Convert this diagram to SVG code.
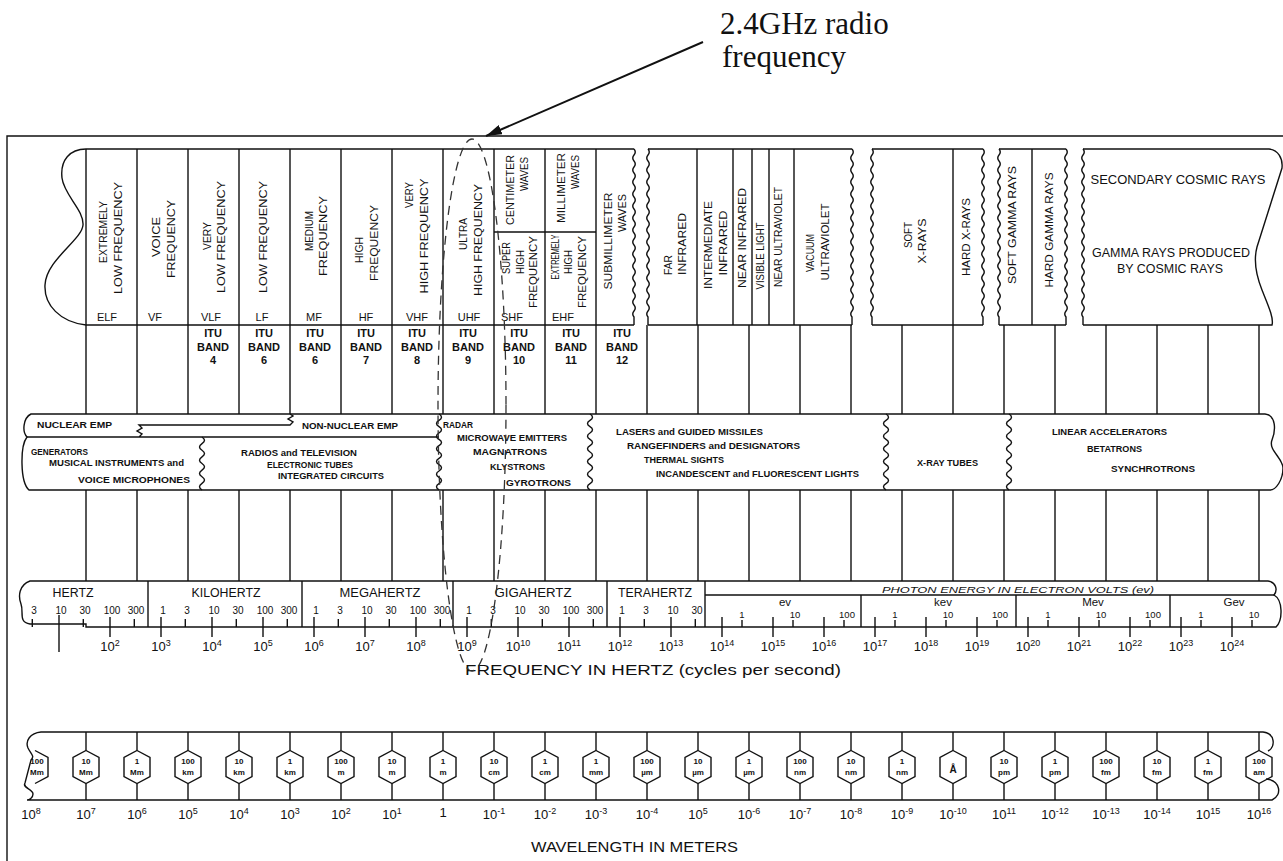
<svg xmlns="http://www.w3.org/2000/svg" width="1283" height="861" viewBox="0 0 1283 861">
<defs>
<style>
.ln{fill:none;stroke:#111;stroke-width:1.4}
.t{font-family:"Liberation Sans",Arial,Helvetica,sans-serif;fill:#111}
.hv{font-size:10.5px;text-anchor:middle}
.ab{font-size:11px;text-anchor:middle}
.itu{font-size:11px;font-weight:bold;text-anchor:middle}
.m{font-size:8.5px;font-weight:bold}
.u{font-size:12px;text-anchor:middle}
.n{font-size:10px;text-anchor:middle}
.d{font-size:13px;text-anchor:middle}
.hx{font-size:8px;font-weight:bold;text-anchor:middle}
.cap{font-size:15px}
.ann{font-family:"Liberation Serif","Times New Roman",serif;font-size:31px;fill:#111}
</style>
<path id="wv" d="M0,0q2.5,3 0,6q-2.5,3 0,6q2.5,3 0,6q-2.5,3 0,6q2.5,3 0,6q-2.5,3 0,6q2.5,3 0,6q-2.5,3 0,6q2.5,3 0,6q-2.5,3 0,6q2.5,3 0,6q-2.5,3 0,6q2.5,3 0,6q-2.5,3 0,6q2.5,3 0,6q-2.5,3 0,6q2.5,3 0,6q-2.5,3 0,6q2.5,3 0,6q-2.5,3 0,6q2.5,3 0,6q-2.5,3 0,6q2.5,3 0,6q-2.5,3 0,6q2.5,3 0,6q-2.5,3 0,6q2.5,3 0,6q-2.5,3 0,6l0,8"/>
<path id="wm" d="M0,0q5,3.2 0,6.33q-5,3.2 0,6.33q5,3.2 0,6.33q-5,3.2 0,6.33q5,3.2 0,6.33q-5,3.2 0,6.33q5,3.2 0,6.33q-5,3.2 0,6.33q5,3.2 0,6.33q-5,3.2 0,6.33q5,3.2 0,6.33q-5,3.2 0,6.33"/>
<path id="ws" d="M0,0q5,3.3 0,6.63q-5,3.3 0,6.63q5,3.3 0,6.63q-5,3.3 0,6.63q5,3.3 0,6.63q-5,3.3 0,6.63q5,3.3 0,6.63q-5,3.3 0,6.63"/>
<polygon id="hex" points="0,-16.5 13,-9.5 13,9.5 0,16.5 -13,9.5 -13,-9.5"/>
<marker id="ah" viewBox="0 0 16 10" refX="16" refY="5" markerWidth="16" markerHeight="10" markerUnits="userSpaceOnUse" orient="auto"><path d="M0,0 L16,5 L0,10 z" fill="#111"/></marker>
<clipPath id="clipL"><rect x="30" y="740" width="30" height="50"/></clipPath>
</defs>
<rect width="1283" height="861" fill="#fff"/>

<g id="frame" class="ln">
<path d="M7,861 V136 H1283"/>
</g>

<g id="annotation">
<text class="ann" x="720" y="34">2.4GHz radio</text>
<text class="ann" x="722" y="67">frequency</text>
</g>

<g id="header">
<path class="ln" d="M86,149 H634 M86,149 C70,149 60,160 62,178 C64,195 84,210 83,225 C82,240 46,260 45,285 C44,305 60,322 86,325 H634"/>
<path class="ln" d="M648,149 H852 M648,325 H852 M872,149 H983 M872,325 H983 M999,149 H1066 M999,325 H1066"/>
<path class="ln" d="M1083,149 H1269 C1278,150 1283,158 1282,168 L1257,247 C1253,262 1258,280 1262,290 C1268,305 1274,318 1272,325 H1083"/>
<use href="#wv" x="634" y="149" class="ln"/>
<use href="#wv" x="648" y="149" class="ln"/>
<use href="#wv" x="852" y="149" class="ln"/>
<use href="#wv" x="872" y="149" class="ln"/>
<use href="#wv" x="983" y="149" class="ln"/>
<use href="#wv" x="999" y="149" class="ln"/>
<use href="#wv" x="1066" y="149" class="ln"/>
<use href="#wv" x="1083" y="149" class="ln"/>
<path class="ln" d="M86,149V325M137,149V325M188,149V325M239,149V325M290,149V325M341,149V325M392,149V325M443,149V325M494,149V325M545,149V325M596,149V325M494,232H596M697,149V325M733,149V325M752,149V325M769,149V325M794,149V325M953,149V325M1032,149V325"/>
<g class="t hv">
<text transform="translate(103,232) rotate(-90)" y="4" textLength="62" lengthAdjust="spacingAndGlyphs">EXTREMELY</text>
<text transform="translate(118,238) rotate(-90)" y="4" textLength="112" lengthAdjust="spacingAndGlyphs">LOW FREQUENCY</text>
<text transform="translate(156,237) rotate(-90)" y="4" textLength="40" lengthAdjust="spacingAndGlyphs">VOICE</text>
<text transform="translate(171,239) rotate(-90)" y="4" textLength="78" lengthAdjust="spacingAndGlyphs">FREQUENCY</text>
<text transform="translate(207,236) rotate(-90)" y="4" textLength="28" lengthAdjust="spacingAndGlyphs">VERY</text>
<text transform="translate(221,237) rotate(-90)" y="4" textLength="112" lengthAdjust="spacingAndGlyphs">LOW FREQUENCY</text>
<text transform="translate(263,237) rotate(-90)" y="4" textLength="112" lengthAdjust="spacingAndGlyphs">LOW FREQUENCY</text>
<text transform="translate(309,231) rotate(-90)" y="4" textLength="40" lengthAdjust="spacingAndGlyphs">MEDIUM</text>
<text transform="translate(323,236) rotate(-90)" y="4" textLength="80" lengthAdjust="spacingAndGlyphs">FREQUENCY</text>
<text transform="translate(359,250) rotate(-90)" y="4" textLength="26" lengthAdjust="spacingAndGlyphs">HIGH</text>
<text transform="translate(374,243) rotate(-90)" y="4" textLength="76" lengthAdjust="spacingAndGlyphs">FREQUENCY</text>
<text transform="translate(409,195) rotate(-90)" y="4" textLength="26" lengthAdjust="spacingAndGlyphs">VERY</text>
<text transform="translate(424,236) rotate(-90)" y="4" textLength="115" lengthAdjust="spacingAndGlyphs">HIGH FREQUENCY</text>
<text transform="translate(463,234) rotate(-90)" y="4" textLength="32" lengthAdjust="spacingAndGlyphs">ULTRA</text>
<text transform="translate(478,240) rotate(-90)" y="4" textLength="112" lengthAdjust="spacingAndGlyphs">HIGH FREQUENCY</text>
<text transform="translate(510,190) rotate(-90)" y="4" textLength="70" lengthAdjust="spacingAndGlyphs">CENTIMETER</text>
<text transform="translate(524,174) rotate(-90)" y="4" textLength="34" lengthAdjust="spacingAndGlyphs">WAVES</text>
<text transform="translate(561,188) rotate(-90)" y="4" textLength="70" lengthAdjust="spacingAndGlyphs">MILLIMETER</text>
<text transform="translate(575,172) rotate(-90)" y="4" textLength="34" lengthAdjust="spacingAndGlyphs">WAVES</text>
<text transform="translate(506,258) rotate(-90)" y="4" textLength="32" lengthAdjust="spacingAndGlyphs">SUPER</text>
<text transform="translate(520,262) rotate(-90)" y="4" textLength="24" lengthAdjust="spacingAndGlyphs">HIGH</text>
<text transform="translate(533,272) rotate(-90)" y="4" textLength="72" lengthAdjust="spacingAndGlyphs">FREQUENCY</text>
<text transform="translate(555,257) rotate(-90)" y="4" textLength="45" lengthAdjust="spacingAndGlyphs">EXTREMELY</text>
<text transform="translate(568,262) rotate(-90)" y="4" textLength="24" lengthAdjust="spacingAndGlyphs">HIGH</text>
<text transform="translate(582,272) rotate(-90)" y="4" textLength="72" lengthAdjust="spacingAndGlyphs">FREQUENCY</text>
<text transform="translate(608,241) rotate(-90)" y="4" textLength="97" lengthAdjust="spacingAndGlyphs">SUBMILLIMETER</text>
<text transform="translate(622,213) rotate(-90)" y="4" textLength="38" lengthAdjust="spacingAndGlyphs">WAVES</text>
<text transform="translate(668,265) rotate(-90)" y="4" textLength="20" lengthAdjust="spacingAndGlyphs">FAR</text>
<text transform="translate(682,244) rotate(-90)" y="4" textLength="62" lengthAdjust="spacingAndGlyphs">INFRARED</text>
<text transform="translate(708,245) rotate(-90)" y="4" textLength="88" lengthAdjust="spacingAndGlyphs">INTERMEDIATE</text>
<text transform="translate(723,243) rotate(-90)" y="4" textLength="65" lengthAdjust="spacingAndGlyphs">INFRARED</text>
<text transform="translate(742,238) rotate(-90)" y="4" textLength="100" lengthAdjust="spacingAndGlyphs">NEAR INFRARED</text>
<text transform="translate(760,256) rotate(-90)" y="4" textLength="67" lengthAdjust="spacingAndGlyphs">VISIBLE LIGHT</text>
<text transform="translate(778,237) rotate(-90)" y="4" textLength="100" lengthAdjust="spacingAndGlyphs">NEAR ULTRAVIOLET</text>
<text transform="translate(810,253) rotate(-90)" y="4" textLength="38" lengthAdjust="spacingAndGlyphs">VACUUM</text>
<text transform="translate(825,242) rotate(-90)" y="4" textLength="77" lengthAdjust="spacingAndGlyphs">ULTRAVIOLET</text>
<text transform="translate(908,235) rotate(-90)" y="4" textLength="26" lengthAdjust="spacingAndGlyphs">SOFT</text>
<text transform="translate(922,241) rotate(-90)" y="4" textLength="45" lengthAdjust="spacingAndGlyphs">X-RAYS</text>
<text transform="translate(966,237) rotate(-90)" y="4" textLength="78" lengthAdjust="spacingAndGlyphs">HARD X-RAYS</text>
<text transform="translate(1012,225) rotate(-90)" y="4" textLength="118" lengthAdjust="spacingAndGlyphs">SOFT GAMMA RAYS</text>
<text transform="translate(1049,230) rotate(-90)" y="4" textLength="115" lengthAdjust="spacingAndGlyphs">HARD GAMMA RAYS</text>
</g>
<g class="t u">
<text x="1178" y="184" textLength="175" lengthAdjust="spacingAndGlyphs">SECONDARY COSMIC RAYS</text>
<text x="1171" y="257" textLength="158" lengthAdjust="spacingAndGlyphs">GAMMA RAYS PRODUCED</text>
<text x="1170" y="273" textLength="106" lengthAdjust="spacingAndGlyphs">BY COSMIC RAYS</text>
</g>
<g class="t ab">
<text x="107" y="321">ELF</text><text x="155" y="321">VF</text><text x="211" y="321">VLF</text>
<text x="262" y="321">LF</text><text x="314" y="321">MF</text><text x="366" y="321">HF</text>
<text x="417" y="321">VHF</text><text x="469" y="321">UHF</text><text x="512" y="321">SHF</text>
<text x="563" y="321">EHF</text>
</g>
</g>

<g id="itu-row">
<path class="ln" d="M86,325V414M137,325V414M188,325V414M239,325V414M290,325V414M341,325V414M392,325V414M443,325V414M494,325V414M545,325V414M596,325V414M647,325V414M698,325V414M749,325V414M800,325V414M851,325V414M902,325V414M953,325V414M1004,325V414M1055,325V414M1106,325V414M1157,325V414M1208,325V414M1259,325V414"/>
<g class="t itu">
<text x="213" y="337">ITU</text><text x="213" y="351">BAND</text><text x="213" y="364">4</text>
<text x="264" y="337">ITU</text><text x="264" y="351">BAND</text><text x="264" y="364">6</text>
<text x="315" y="337">ITU</text><text x="315" y="351">BAND</text><text x="315" y="364">6</text>
<text x="366" y="337">ITU</text><text x="366" y="351">BAND</text><text x="366" y="364">7</text>
<text x="417" y="337">ITU</text><text x="417" y="351">BAND</text><text x="417" y="364">8</text>
<text x="468" y="337">ITU</text><text x="468" y="351">BAND</text><text x="468" y="364">9</text>
<text x="519" y="337">ITU</text><text x="519" y="351">BAND</text><text x="519" y="364">10</text>
<text x="571" y="337">ITU</text><text x="571" y="351">BAND</text><text x="571" y="364">11</text>
<text x="622" y="337">ITU</text><text x="622" y="351">BAND</text><text x="622" y="364">12</text>
</g>
</g>

<g id="sources-band">
<path class="ln" d="M31,414 H1265 C1276,415 1276,430 1272,440 C1268,450 1283,458 1283,468 C1283,480 1276,490 1270,490 H29 C20,482 20,446 27,437 C22,432 23,418 31,414 Z"/>
<path class="ln" d="M27,437 H439 M139,437 l3,-3 -5,-3 5,-3 -3,-3 H290 l3,-3 -5,-3 5,-3 -3,-2"/>
<use href="#wm" x="439" y="414" class="ln"/>
<use href="#wm" x="590" y="414" class="ln"/>
<use href="#wm" x="886" y="414" class="ln"/>
<use href="#wm" x="1009" y="414" class="ln"/>
<use href="#ws" x="202" y="437" class="ln"/>
<g class="t m">
<text x="37" y="428" textLength="75" lengthAdjust="spacingAndGlyphs">NUCLEAR EMP</text>
<text x="302" y="429" textLength="96" lengthAdjust="spacingAndGlyphs">NON-NUCLEAR EMP</text>
<text x="31" y="455" textLength="57" lengthAdjust="spacingAndGlyphs">GENERATORS</text>
<text x="49" y="466" textLength="135" lengthAdjust="spacingAndGlyphs">MUSICAL INSTRUMENTS and</text>
<text x="78" y="483" textLength="112" lengthAdjust="spacingAndGlyphs">VOICE MICROPHONES</text>
<text x="241" y="456" textLength="116" lengthAdjust="spacingAndGlyphs">RADIOS and TELEVISION</text>
<text x="267" y="468" textLength="86" lengthAdjust="spacingAndGlyphs">ELECTRONIC TUBES</text>
<text x="278" y="479" textLength="106" lengthAdjust="spacingAndGlyphs">INTEGRATED CIRCUITS</text>
<text x="443" y="428" textLength="30" lengthAdjust="spacingAndGlyphs">RADAR</text>
<text x="457" y="441" textLength="110" lengthAdjust="spacingAndGlyphs">MICROWAVE EMITTERS</text>
<text x="473" y="455" textLength="74" lengthAdjust="spacingAndGlyphs">MAGNATRONS</text>
<text x="490" y="470" textLength="55" lengthAdjust="spacingAndGlyphs">KLYSTRONS</text>
<text x="506" y="486" textLength="65" lengthAdjust="spacingAndGlyphs">GYROTRONS</text>
<text x="616" y="435" textLength="147" lengthAdjust="spacingAndGlyphs">LASERS and GUIDED MISSILES</text>
<text x="627" y="449" textLength="173" lengthAdjust="spacingAndGlyphs">RANGEFINDERS and DESIGNATORS</text>
<text x="644" y="463" textLength="80" lengthAdjust="spacingAndGlyphs">THERMAL SIGHTS</text>
<text x="656" y="477" textLength="203" lengthAdjust="spacingAndGlyphs">INCANDESCENT and FLUORESCENT LIGHTS</text>
<text x="917" y="466" textLength="61" lengthAdjust="spacingAndGlyphs">X-RAY TUBES</text>
<text x="1052" y="435" textLength="115" lengthAdjust="spacingAndGlyphs">LINEAR ACCELERATORS</text>
<text x="1087" y="452" textLength="55" lengthAdjust="spacingAndGlyphs">BETATRONS</text>
<text x="1111" y="472" textLength="84" lengthAdjust="spacingAndGlyphs">SYNCHROTRONS</text>
</g>
<path class="ln" d="M86,490V581M137,490V581M188,490V581M239,490V581M290,490V581M341,490V581M392,490V581M443,490V581M494,490V581M545,490V581M596,490V581M647,490V581M698,490V581M749,490V581M800,490V581M851,490V581M902,490V581M953,490V581M1004,490V581M1055,490V581M1106,490V581M1157,490V581M1208,490V581M1259,490V581"/>
</g>

<g id="frequency-scale">
<path class="ln" d="M30,581 H1268 C1276,582 1278,590 1274,595 C1283,600 1283,620 1276,627 H86 V624 H30 C18,622 24,612 21,604 C18,596 19,585 30,581 Z"/>
<path class="ln" d="M148,581V627M302,581V627M453,581V627M607,581V627M705,581V627M705,595H1274M861,595V627M1016,595V627M1170,595V627"/>
<path class="ln" d="M59,615V652M110,617V637M161,617V637M212,617V637M263,617V637M314,617V637M365,617V637M416,617V637M467,617V637M518,617V637M569,617V637M620,617V637M671,617V637M722,617V637M773,617V637M824,617V637M875,617V637M926,617V637M977,617V637M1028,617V637M1079,617V637M1130,617V637M1181,617V637M1232,617V637"/>
<path class="ln" d="M32.3,619V627M83.3,619V627M134.3,619V627M185.3,619V627M236.3,619V627M287.3,619V627M338.3,619V627M389.3,619V627M440.3,619V627M491.3,619V627M542.3,619V627M593.3,619V627M644.3,619V627M695.3,619V627M742,620V627M793,620V627M844,620V627M895,620V627M946,620V627M997,620V627M1048,620V627M1099,620V627M1150,620V627M1201,620V627M1252,620V627"/>
<g class="t u">
<text x="73" y="597" textLength="41" lengthAdjust="spacingAndGlyphs">HERTZ</text>
<text x="226" y="597" textLength="69" lengthAdjust="spacingAndGlyphs">KILOHERTZ</text>
<text x="380" y="597" textLength="81" lengthAdjust="spacingAndGlyphs">MEGAHERTZ</text>
<text x="533" y="597" textLength="77" lengthAdjust="spacingAndGlyphs">GIGAHERTZ</text>
<text x="655" y="597" textLength="74" lengthAdjust="spacingAndGlyphs">TERAHERTZ</text>
</g>
<g class="t" font-size="11.5" text-anchor="middle">
<text x="785" y="606">ev</text><text x="943" y="606">kev</text><text x="1093" y="606">Mev</text><text x="1234" y="606">Gev</text>
</g>
<text class="t" x="1018" y="593" font-size="9.5" font-style="italic" text-anchor="middle" textLength="272" lengthAdjust="spacingAndGlyphs">PHOTON ENERGY IN ELECTRON VOLTS (ev)</text>
<g class="t n">
<text x="34" y="614">3</text><text x="61" y="614">10</text><text x="85" y="614">30</text><text x="112" y="614">100</text><text x="136" y="614">300</text>
<text x="163" y="614">1</text><text x="187" y="614">3</text><text x="214" y="614">10</text><text x="238" y="614">30</text><text x="265" y="614">100</text><text x="289" y="614">300</text>
<text x="316" y="614">1</text><text x="340" y="614">3</text><text x="367" y="614">10</text><text x="391" y="614">30</text><text x="418" y="614">100</text><text x="442" y="614">300</text>
<text x="469" y="614">1</text><text x="493" y="614">3</text><text x="520" y="614">10</text><text x="544" y="614">30</text><text x="571" y="614">100</text><text x="595" y="614">300</text>
<text x="622" y="614">1</text><text x="646" y="614">3</text><text x="673" y="614">10</text><text x="697" y="614">30</text>
</g>
<g class="t" font-size="9.5" text-anchor="middle">
<text x="742" y="618">1</text><text x="795" y="618">10</text><text x="847" y="618">100</text>
<text x="895" y="618">1</text><text x="948" y="618">10</text><text x="1000" y="618">100</text>
<text x="1048" y="618">1</text><text x="1101" y="618">10</text><text x="1153" y="618">100</text>
<text x="1201" y="618">1</text><text x="1254" y="618">10</text>
</g>
<g class="t d">
<text x="110" y="651">10<tspan dy="-5" font-size="9">2</tspan></text>
<text x="161" y="651">10<tspan dy="-5" font-size="9">3</tspan></text>
<text x="212" y="651">10<tspan dy="-5" font-size="9">4</tspan></text>
<text x="263" y="651">10<tspan dy="-5" font-size="9">5</tspan></text>
<text x="314" y="651">10<tspan dy="-5" font-size="9">6</tspan></text>
<text x="365" y="651">10<tspan dy="-5" font-size="9">7</tspan></text>
<text x="416" y="651">10<tspan dy="-5" font-size="9">8</tspan></text>
<text x="467" y="651">10<tspan dy="-5" font-size="9">9</tspan></text>
<text x="518" y="651">10<tspan dy="-5" font-size="9">10</tspan></text>
<text x="569" y="651">10<tspan dy="-5" font-size="9">11</tspan></text>
<text x="620" y="651">10<tspan dy="-5" font-size="9">12</tspan></text>
<text x="671" y="651">10<tspan dy="-5" font-size="9">13</tspan></text>
<text x="722" y="651">10<tspan dy="-5" font-size="9">14</tspan></text>
<text x="773" y="651">10<tspan dy="-5" font-size="9">15</tspan></text>
<text x="824" y="651">10<tspan dy="-5" font-size="9">16</tspan></text>
<text x="875" y="651">10<tspan dy="-5" font-size="9">17</tspan></text>
<text x="926" y="651">10<tspan dy="-5" font-size="9">18</tspan></text>
<text x="977" y="651">10<tspan dy="-5" font-size="9">19</tspan></text>
<text x="1028" y="651">10<tspan dy="-5" font-size="9">20</tspan></text>
<text x="1079" y="651">10<tspan dy="-5" font-size="9">21</tspan></text>
<text x="1130" y="651">10<tspan dy="-5" font-size="9">22</tspan></text>
<text x="1181" y="651">10<tspan dy="-5" font-size="9">23</tspan></text>
<text x="1232" y="651">10<tspan dy="-5" font-size="9">24</tspan></text>
</g>
<text class="t cap" x="465" y="675" textLength="376" lengthAdjust="spacingAndGlyphs">FREQUENCY IN HERTZ (cycles per second)</text>
</g>

<g id="wavelength-scale">
<path class="ln" d="M27,800 C29,800 33,798 33,794 C33,789 22,788 25,783 L31,760 C35,756 31,754 28,748 C25,741 30,733 41,732 H1263 C1275,733 1276,747 1268,751 M1266,779 C1280,780 1283,795 1272,800 H27"/>
<path class="ln" d="M35,750.5 L48,757.5 V776.5 L35,783.5"/>
<path class="ln" d="M86,732V750.5M86,783.5V800M137,732V750.5M137,783.5V800M188,732V750.5M188,783.5V800M239,732V750.5M239,783.5V800M290,732V750.5M290,783.5V800M341,732V750.5M341,783.5V800M392,732V750.5M392,783.5V800M443,732V750.5M443,783.5V800M494,732V750.5M494,783.5V800M545,732V750.5M545,783.5V800M596,732V750.5M596,783.5V800M647,732V750.5M647,783.5V800M698,732V750.5M698,783.5V800M749,732V750.5M749,783.5V800M800,732V750.5M800,783.5V800M851,732V750.5M851,783.5V800M902,732V750.5M902,783.5V800M953,732V750.5M953,783.5V800M1004,732V750.5M1004,783.5V800M1055,732V750.5M1055,783.5V800M1106,732V750.5M1106,783.5V800M1157,732V750.5M1157,783.5V800M1208,732V750.5M1208,783.5V800M1259,732V750.5M1259,783.5V800"/>
<g class="ln">
<use href="#hex" x="86" y="767"/><use href="#hex" x="137" y="767"/><use href="#hex" x="188" y="767"/><use href="#hex" x="239" y="767"/>
<use href="#hex" x="290" y="767"/><use href="#hex" x="341" y="767"/><use href="#hex" x="392" y="767"/><use href="#hex" x="443" y="767"/>
<use href="#hex" x="494" y="767"/><use href="#hex" x="545" y="767"/><use href="#hex" x="596" y="767"/><use href="#hex" x="647" y="767"/>
<use href="#hex" x="698" y="767"/><use href="#hex" x="749" y="767"/><use href="#hex" x="800" y="767"/><use href="#hex" x="851" y="767"/>
<use href="#hex" x="902" y="767"/><use href="#hex" x="953" y="767"/><use href="#hex" x="1004" y="767"/><use href="#hex" x="1055" y="767"/>
<use href="#hex" x="1106" y="767"/><use href="#hex" x="1157" y="767"/><use href="#hex" x="1208" y="767"/><use href="#hex" x="1259" y="767"/>
</g>
<g class="t hx">
<g clip-path="url(#clipL)"><text x="37" y="764">100</text><text x="37" y="775">Mm</text></g>
<text x="86" y="764">10</text><text x="86" y="775">Mm</text>
<text x="137" y="764">1</text><text x="137" y="775">Mm</text>
<text x="188" y="764">100</text><text x="188" y="775">km</text>
<text x="239" y="764">10</text><text x="239" y="775">km</text>
<text x="290" y="764">1</text><text x="290" y="775">km</text>
<text x="341" y="764">100</text><text x="341" y="775">m</text>
<text x="392" y="764">10</text><text x="392" y="775">m</text>
<text x="443" y="764">1</text><text x="443" y="775">m</text>
<text x="494" y="764">10</text><text x="494" y="775">cm</text>
<text x="545" y="764">1</text><text x="545" y="775">cm</text>
<text x="596" y="764">1</text><text x="596" y="775">mm</text>
<text x="647" y="764">100</text><text x="647" y="775">µm</text>
<text x="698" y="764">10</text><text x="698" y="775">µm</text>
<text x="749" y="764">1</text><text x="749" y="775">µm</text>
<text x="800" y="764">100</text><text x="800" y="775">nm</text>
<text x="851" y="764">10</text><text x="851" y="775">nm</text>
<text x="902" y="764">1</text><text x="902" y="775">nm</text>
<text x="953" y="773" font-size="10">Å</text>
<text x="1004" y="764">10</text><text x="1004" y="775">pm</text>
<text x="1055" y="764">1</text><text x="1055" y="775">pm</text>
<text x="1106" y="764">100</text><text x="1106" y="775">fm</text>
<text x="1157" y="764">10</text><text x="1157" y="775">fm</text>
<text x="1208" y="764">1</text><text x="1208" y="775">fm</text>
<text x="1259" y="764">100</text><text x="1259" y="775">am</text>
</g>
<g class="t d">
<text x="31" y="819">10<tspan dy="-5" font-size="9">8</tspan></text>
<text x="86" y="819">10<tspan dy="-5" font-size="9">7</tspan></text>
<text x="137" y="819">10<tspan dy="-5" font-size="9">6</tspan></text>
<text x="188" y="819">10<tspan dy="-5" font-size="9">5</tspan></text>
<text x="239" y="819">10<tspan dy="-5" font-size="9">4</tspan></text>
<text x="290" y="819">10<tspan dy="-5" font-size="9">3</tspan></text>
<text x="341" y="819">10<tspan dy="-5" font-size="9">2</tspan></text>
<text x="392" y="819">10<tspan dy="-5" font-size="9">1</tspan></text>
<text x="443" y="817">1</text>
<text x="494" y="819">10<tspan dy="-5" font-size="9">-1</tspan></text>
<text x="545" y="819">10<tspan dy="-5" font-size="9">-2</tspan></text>
<text x="596" y="819">10<tspan dy="-5" font-size="9">-3</tspan></text>
<text x="647" y="819">10<tspan dy="-5" font-size="9">-4</tspan></text>
<text x="698" y="819">10<tspan dy="-5" font-size="9">5</tspan></text>
<text x="749" y="819">10<tspan dy="-5" font-size="9">-6</tspan></text>
<text x="800" y="819">10<tspan dy="-5" font-size="9">-7</tspan></text>
<text x="851" y="819">10<tspan dy="-5" font-size="9">-8</tspan></text>
<text x="902" y="819">10<tspan dy="-5" font-size="9">-9</tspan></text>
<text x="953" y="819">10<tspan dy="-5" font-size="9">-10</tspan></text>
<text x="1004" y="819">10<tspan dy="-5" font-size="9">11</tspan></text>
<text x="1055" y="819">10<tspan dy="-5" font-size="9">-12</tspan></text>
<text x="1106" y="819">10<tspan dy="-5" font-size="9">-13</tspan></text>
<text x="1157" y="819">10<tspan dy="-5" font-size="9">-14</tspan></text>
<text x="1208" y="819">10<tspan dy="-5" font-size="9">15</tspan></text>
<text x="1259" y="819">10<tspan dy="-5" font-size="9">16</tspan></text>
</g>
<text class="t cap" x="531" y="852" textLength="207" lengthAdjust="spacingAndGlyphs">WAVELENGTH IN METERS</text>
</g>

<g id="connectors">
<ellipse cx="472" cy="405" rx="34" ry="266" fill="none" stroke="#333" stroke-width="1.3" stroke-dasharray="9 6"/>
<line x1="703" y1="42" x2="486" y2="136" stroke="#111" stroke-width="2" marker-end="url(#ah)"/>
</g>
</svg>
